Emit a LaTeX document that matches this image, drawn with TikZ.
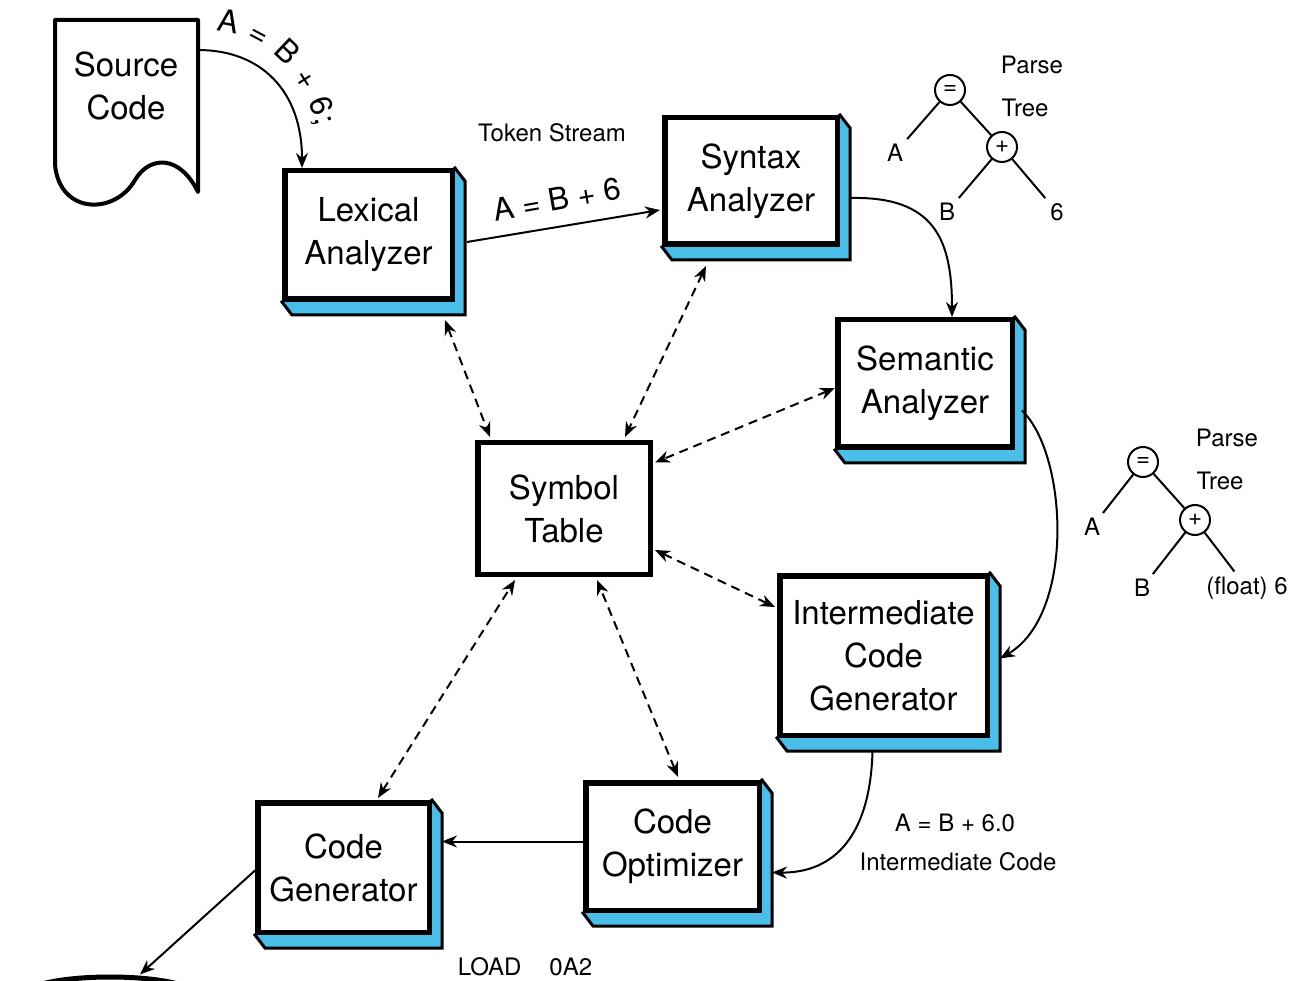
\documentclass[tikz,border=0pt]{standalone}
\usepackage{fontspec}
\setmainfont{TeX Gyre Heros}
\usetikzlibrary{arrows.meta,backgrounds,decorations.text,shapes.geometric}

\definecolor{depthblue}{RGB}{72,190,232}

\begin{document}
\begin{tikzpicture}[x=1pt,y=-1pt,
  stage/.style={draw, line width=5.5pt, fill=white, align=center, inner sep=0pt,
                outer sep=2.75pt, font=\fontsize{33}{43}\selectfont},
  depth/.style={fill=depthblue, draw, line width=3pt, line join=miter},
  flow/.style={line width=2pt, -{Stealth[length=15pt,width=12pt]}},
  link/.style={line width=2pt, dash pattern=on 9pt off 6pt,
               {Stealth[length=15pt,width=12pt]}-{Stealth[length=15pt,width=12pt]}},
  small/.style={font=\fontsize{24}{24}\selectfont, inner sep=0pt},
  leaf/.style={font=\fontsize{24}{24}\selectfont, inner sep=5pt},
  op/.style={circle, draw, line width=2pt, minimum size=30pt, inner sep=0pt,
             font=\fontsize{24}{24}\selectfont},
  branch/.style={line width=2pt},
  docline/.style={line width=4pt, line join=round}
]
\useasboundingbox (0,0) rectangle (1294,981);
\begin{scope}[on background layer]
  \fill[white] (0,0) rectangle (1294,981);
\end{scope}

% source document
\draw[docline] (55,20) -- (198,20) -- (198,192)
  .. controls (180,155) and (150,155) .. (135,180)
  .. controls (115,215) and (60,215) .. (55,165) -- cycle;
\node[align=center, inner sep=0pt, font=\fontsize{33}{43}\selectfont] (src) at (126,86) {Source\\Code};
\coordinate (srcout) at (198,50);

% compiler phases
\node[stage, minimum width=167.5, minimum height=128.5] (lex) at (368.5,235) {Lexical\\Analyzer};
\node[stage, minimum width=172.5, minimum height=126.5] (syn) at (751,181) {Syntax\\Analyzer};
\node[stage, minimum width=174.5, minimum height=127.5] (sem) at (925,383.5) {Semantic\\Analyzer};
\node[stage, minimum width=172.5, minimum height=131.5] (sym) at (564,508.5) {Symbol\\Table};
\node[stage, minimum width=207.5, minimum height=159.5] (int) at (883.5,655.5) {Intermediate\\Code\\Generator};
\node[stage, minimum width=173.5, minimum height=127.5] (opt) at (672.5,846.5) {Code\\Optimizer};
\node[stage, minimum width=171.5, minimum height=129.5] (gen) at (343.5,867.5) {Code\\Generator};
\node[ellipse, draw, line width=5pt, minimum width=172, minimum height=36, inner sep=0pt] (disk) at (110,995) {};

% extruded depth of the phase boxes
\begin{scope}[on background layer]
  \foreach \n in {lex,syn,sem,int,opt,gen}
    \filldraw[depth] (\n.north east) -- ++(10,13) -- ([shift={(10,13)}]\n.south east)
      -- ([shift={(10,13)}]\n.south west) -- (\n.south west) -- cycle;
\end{scope}

% main flow
\draw[flow] (srcout) .. controls (262,50) and (302,92) .. ([shift={(20,0)}]lex.north west);
\path[decorate, decoration={text along path, text align={fit to path},
  text={|\fontsize{31}{31}\selectfont|A = B + 6;}}]
  (216,31) .. controls (262,34) and (304,72) .. (317,127);

\draw[flow] ([shift={(12,7)}]lex.east) -- ([shift={(-2,29)}]syn.west);
\node[small] (tokens) at (552,133) {Token Stream};
\node[rotate=10, inner sep=0pt, font=\fontsize{31}{31}\selectfont] (tokexpr) at (557,199) {A = B + 6};

\draw[flow] ([shift={(10,17)}]syn.east) .. controls (935,196) and (952,240) .. ([shift={(27,0)}]sem.north);
\draw[flow] ([shift={(7,27)}]sem.east) .. controls (1068,455) and (1075,615) .. ([shift={(10,3)}]int.east);
\draw[flow] ([shift={(-11,14)}]int.south) .. controls (870,835) and (835,873) .. ([shift={(10,26)}]opt.east);
\draw[flow] ([shift={(0,-5)}]opt.west) -- ([shift={(10,-26)}]gen.east);
\draw[flow] ([shift={(0,3)}]gen.west) -- ([shift={(30,0)}]disk.north);

\node[small] (icexpr) at (955,823) {A = B + 6.0};
\node[small] (iclabel) at (958,862) {Intermediate Code};
\node[small] (asm) at (525,967) {LOAD\hspace{28pt}0A2};

% symbol table accesses
\draw[link] ([shift={(-10,18)}]lex.south east) -- ([shift={(15,-3)}]sym.north west);
\draw[link] ([shift={(-45,19)}]syn.south) -- ([shift={(-28,-3)}]sym.north east);
\draw[link] ([shift={(0,4.5)}]sem.west) -- ([shift={(2,-46)}]sym.east);
\draw[link] ([shift={(-2,-48.5)}]int.west) -- ([shift={(2,41.5)}]sym.east);
\draw[link] ([shift={(5.5,-3)}]opt.north) -- ([shift={(33,3)}]sym.south);
\draw[link] ([shift={(34.5,-2)}]gen.north) -- ([shift={(-49,3)}]sym.south);

% parse tree after syntax analysis
\node[op] (eqa) at (950,90) {=};
\node[op] (plusa) at (1002,147) {+};
\node[leaf] (la) at (895,153) {A};
\node[leaf] (lb) at (947,212) {B};
\node[leaf] (l6) at (1057,212) {6};
\node[small] (pa) at (1032,65) {Parse};
\node[small] (ta) at (1025,108) {Tree};
\draw[branch] (eqa) -- (la);
\draw[branch] (eqa) -- (plusa);
\draw[branch] (plusa) -- (lb);
\draw[branch] (plusa) -- (l6);

% annotated tree after semantic analysis
\node[op] (eqb) at (1143,462) {=};
\node[op] (plusb) at (1195,520) {+};
\node[leaf] (ma) at (1092,527) {A};
\node[leaf] (mb) at (1142,588) {B};
\node[leaf] (mf) at (1247,588) {(float) 6};
\node[small] (pb) at (1227,438) {Parse};
\node[small] (tb) at (1220,481) {Tree};
\draw[branch] (eqb) -- (ma);
\draw[branch] (eqb) -- (plusb);
\draw[branch] (plusb) -- (mb);
\draw[branch] (plusb) -- (mf);
\end{tikzpicture}
\end{document}
